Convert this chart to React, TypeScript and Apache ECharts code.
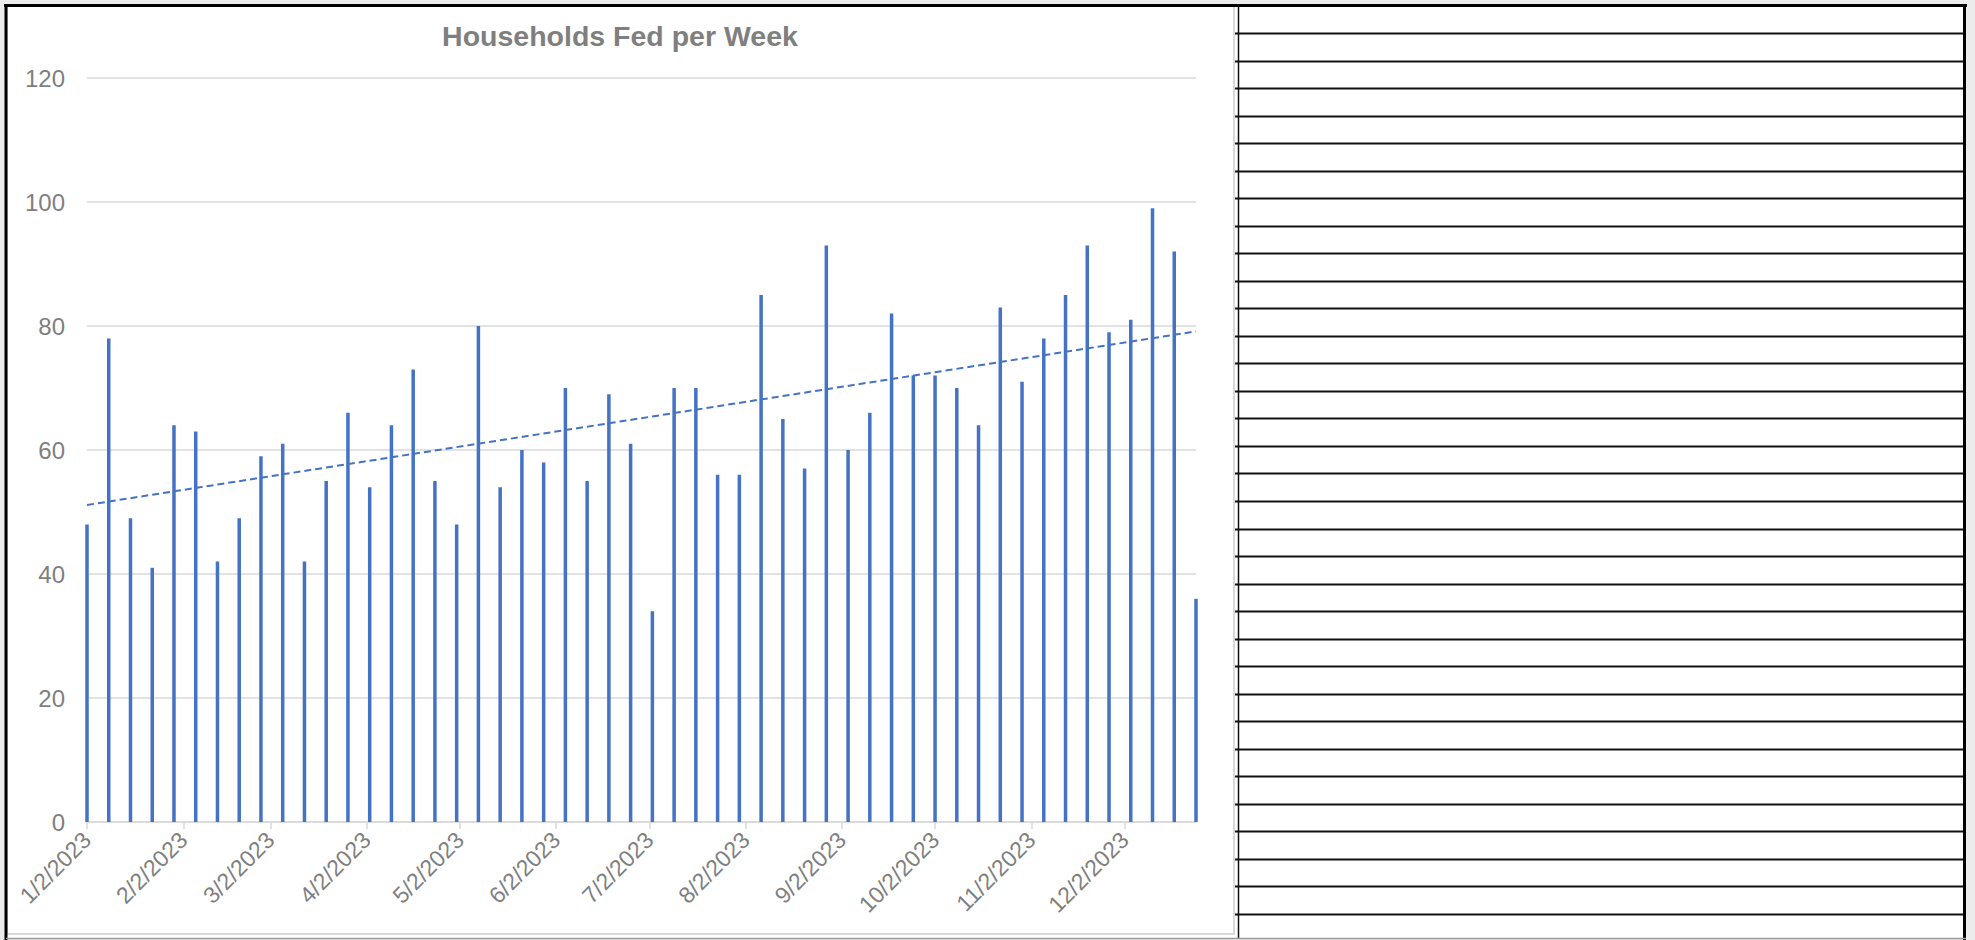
import React, { useEffect, useRef } from "react";
import * as echarts from "echarts";

const chartTitle = "Households Fed per Week";
const firstWeek = [2023, 0, 2];
const lastDay = [2023, 11, 25];
const weekValues = [
  48, 78, 49, 41, 64, 63, 42, 49, 59, 61, 42, 55, 66, 54, 64, 73, 55, 48, 80, 54,
  60, 58, 70, 55, 69, 61, 34, 70, 70, 56, 56, 85, 65, 57, 93, 60, 66, 82, 72, 72,
  70, 64, 83, 71, 78, 85, 93, 79, 81, 99, 92, 36,
];
const tickLabels = [
  "1/2/2023", "2/2/2023", "3/2/2023", "4/2/2023", "5/2/2023", "6/2/2023",
  "7/2/2023", "8/2/2023", "9/2/2023", "10/2/2023", "11/2/2023", "12/2/2023",
];
const yTicks = [0, 20, 40, 60, 80, 100, 120];

const W = 1975;
const H = 940;
const FONT = "'Liberation Sans', Arial, sans-serif";
const LABEL_COLOR = "#7f7f7f";
const BAR_COLOR = "#4472C4";

function buildDays(): string[] {
  const out: string[] = [];
  const d = new Date(firstWeek[0], firstWeek[1], firstWeek[2]);
  const end = new Date(lastDay[0], lastDay[1], lastDay[2]);
  while (d.getTime() <= end.getTime()) {
    out.push(`${d.getMonth() + 1}/${d.getDate()}/${d.getFullYear()}`);
    d.setDate(d.getDate() + 1);
  }
  return out;
}

export default function App() {
  const ref = useRef<HTMLDivElement>(null);
  useEffect(() => {
    if (!ref.current) return;
    const chart = echarts.init(ref.current, undefined, { renderer: "svg" });
    const days = buildDays();
    const n = days.length;
    const barData: (number | null)[] = days.map(() => null);
    const xs: number[] = [];
    weekValues.forEach((v, i) => {
      barData[i * 7] = v;
      xs.push(i * 7);
    });
    // least-squares linear trendline (as in the spreadsheet)
    const m = weekValues.length;
    const mx = xs.reduce((a, b) => a + b, 0) / m;
    const my = weekValues.reduce((a, b) => a + b, 0) / m;
    let sxy = 0;
    let sxx = 0;
    for (let i = 0; i < m; i++) {
      sxy += (xs[i] - mx) * (weekValues[i] - my);
      sxx += (xs[i] - mx) * (xs[i] - mx);
    }
    const slope = sxy / sxx;
    const icpt = my - slope * mx;
    const trendData: (number | null)[] = days.map(() => null);
    trendData[0] = icpt;
    trendData[n - 1] = icpt + slope * (n - 1);

    const isTick = (_i: number, v: string) => tickLabels.includes(v);

    const gridLeft = 87;
    const gridRight = 1196;
    const gridTop = 78;
    const gridBottom = 822;

    const graphics: any[] = [];
    graphics.push({ type: "rect", z: -10, shape: { x: 0, y: 0, width: W, height: H }, style: { fill: "#ececec" }, silent: true });
    graphics.push({ type: "rect", z: -9, shape: { x: 5, y: 5, width: 1961, height: 933 }, style: { fill: "#ffffff" }, silent: true });
    // chart box (light grey)
    graphics.push({ type: "rect", z: -8, shape: { x: 7, y: 6, width: 1227, height: 928 }, style: { fill: "#ffffff", stroke: "#d9d9d9", lineWidth: 2 }, silent: true });
    // right panel rows
    for (let k = 0; k <= 32; k++) {
      const y = Math.round(33 + 27.53 * k) + 0.5;
      graphics.push({ type: "line", shape: { x1: 1235, y1: y, x2: 1964, y2: y }, style: { stroke: "#111111", lineWidth: 2 }, silent: true });
    }
    graphics.push({ type: "line", shape: { x1: 1238.5, y1: 6, x2: 1238.5, y2: 938 }, style: { stroke: "#111111", lineWidth: 1.5 }, silent: true });
    // outer black frame
    graphics.push({ type: "line", shape: { x1: 4, y1: 5.5, x2: 1967, y2: 5.5 }, style: { stroke: "#000000", lineWidth: 3 }, silent: true });
    graphics.push({ type: "line", shape: { x1: 6, y1: 4, x2: 6, y2: 940 }, style: { stroke: "#000000", lineWidth: 3 }, silent: true });
    graphics.push({ type: "line", shape: { x1: 1964.5, y1: 4, x2: 1964.5, y2: 940 }, style: { stroke: "#000000", lineWidth: 3 }, silent: true });
    graphics.push({ type: "line", shape: { x1: 6, y1: 938.5, x2: 1966, y2: 938.5 }, style: { stroke: "#9a9a9a", lineWidth: 1.5 }, silent: true });
    // title
    graphics.push({
      type: "text",
      x: 620,
      y: 36,
      style: {
        text: chartTitle,
        fill: LABEL_COLOR,
        font: `bold 28.5px ${FONT}`,
        textAlign: "center",
        textVerticalAlign: "middle",
      },
    });

    chart.setOption({
      animation: false,
      backgroundColor: "transparent",
      grid: {
        left: gridLeft,
        top: gridTop,
        width: gridRight - gridLeft,
        height: gridBottom - gridTop,
        containLabel: false,
      },
      xAxis: {
        type: "category",
        data: days,
        boundaryGap: false,
        axisLine: { show: true, lineStyle: { color: "#d9d9d9", width: 1.5 } },
        axisTick: { show: true, interval: isTick, length: 7, lineStyle: { color: "#d9d9d9", width: 1.5 } },
        axisLabel: {
          interval: isTick,
          rotate: 45,
          margin: 14,
          color: LABEL_COLOR,
          fontSize: 23,
          fontFamily: FONT,
        },
        splitLine: { show: false },
      },
      yAxis: {
        type: "value",
        min: 0,
        max: yTicks[yTicks.length - 1],
        interval: yTicks[1] - yTicks[0],
        axisLine: { show: false },
        axisTick: { show: false },
        axisLabel: { color: LABEL_COLOR, fontSize: 24, fontFamily: FONT, margin: 22 },
        splitLine: { lineStyle: { color: "#d9d9d9", width: 1.5 } },
      },
      series: [
        {
          type: "bar",
          data: barData,
          barWidth: 3.5,
          clip: false,
          itemStyle: { color: BAR_COLOR },
          z: 2,
        },
        {
          type: "line",
          data: trendData,
          connectNulls: true,
          showSymbol: false,
          symbol: "none",
          clip: false,
          lineStyle: { color: BAR_COLOR, width: 2, type: [7, 4] },
          z: 3,
        },
      ],
      graphic: graphics,
    });
    return () => chart.dispose();
  }, []);
  return (
    <div
      ref={ref}
      style={{ position: "absolute", left: 0, top: 0, width: W, height: H }}
    />
  );
}
